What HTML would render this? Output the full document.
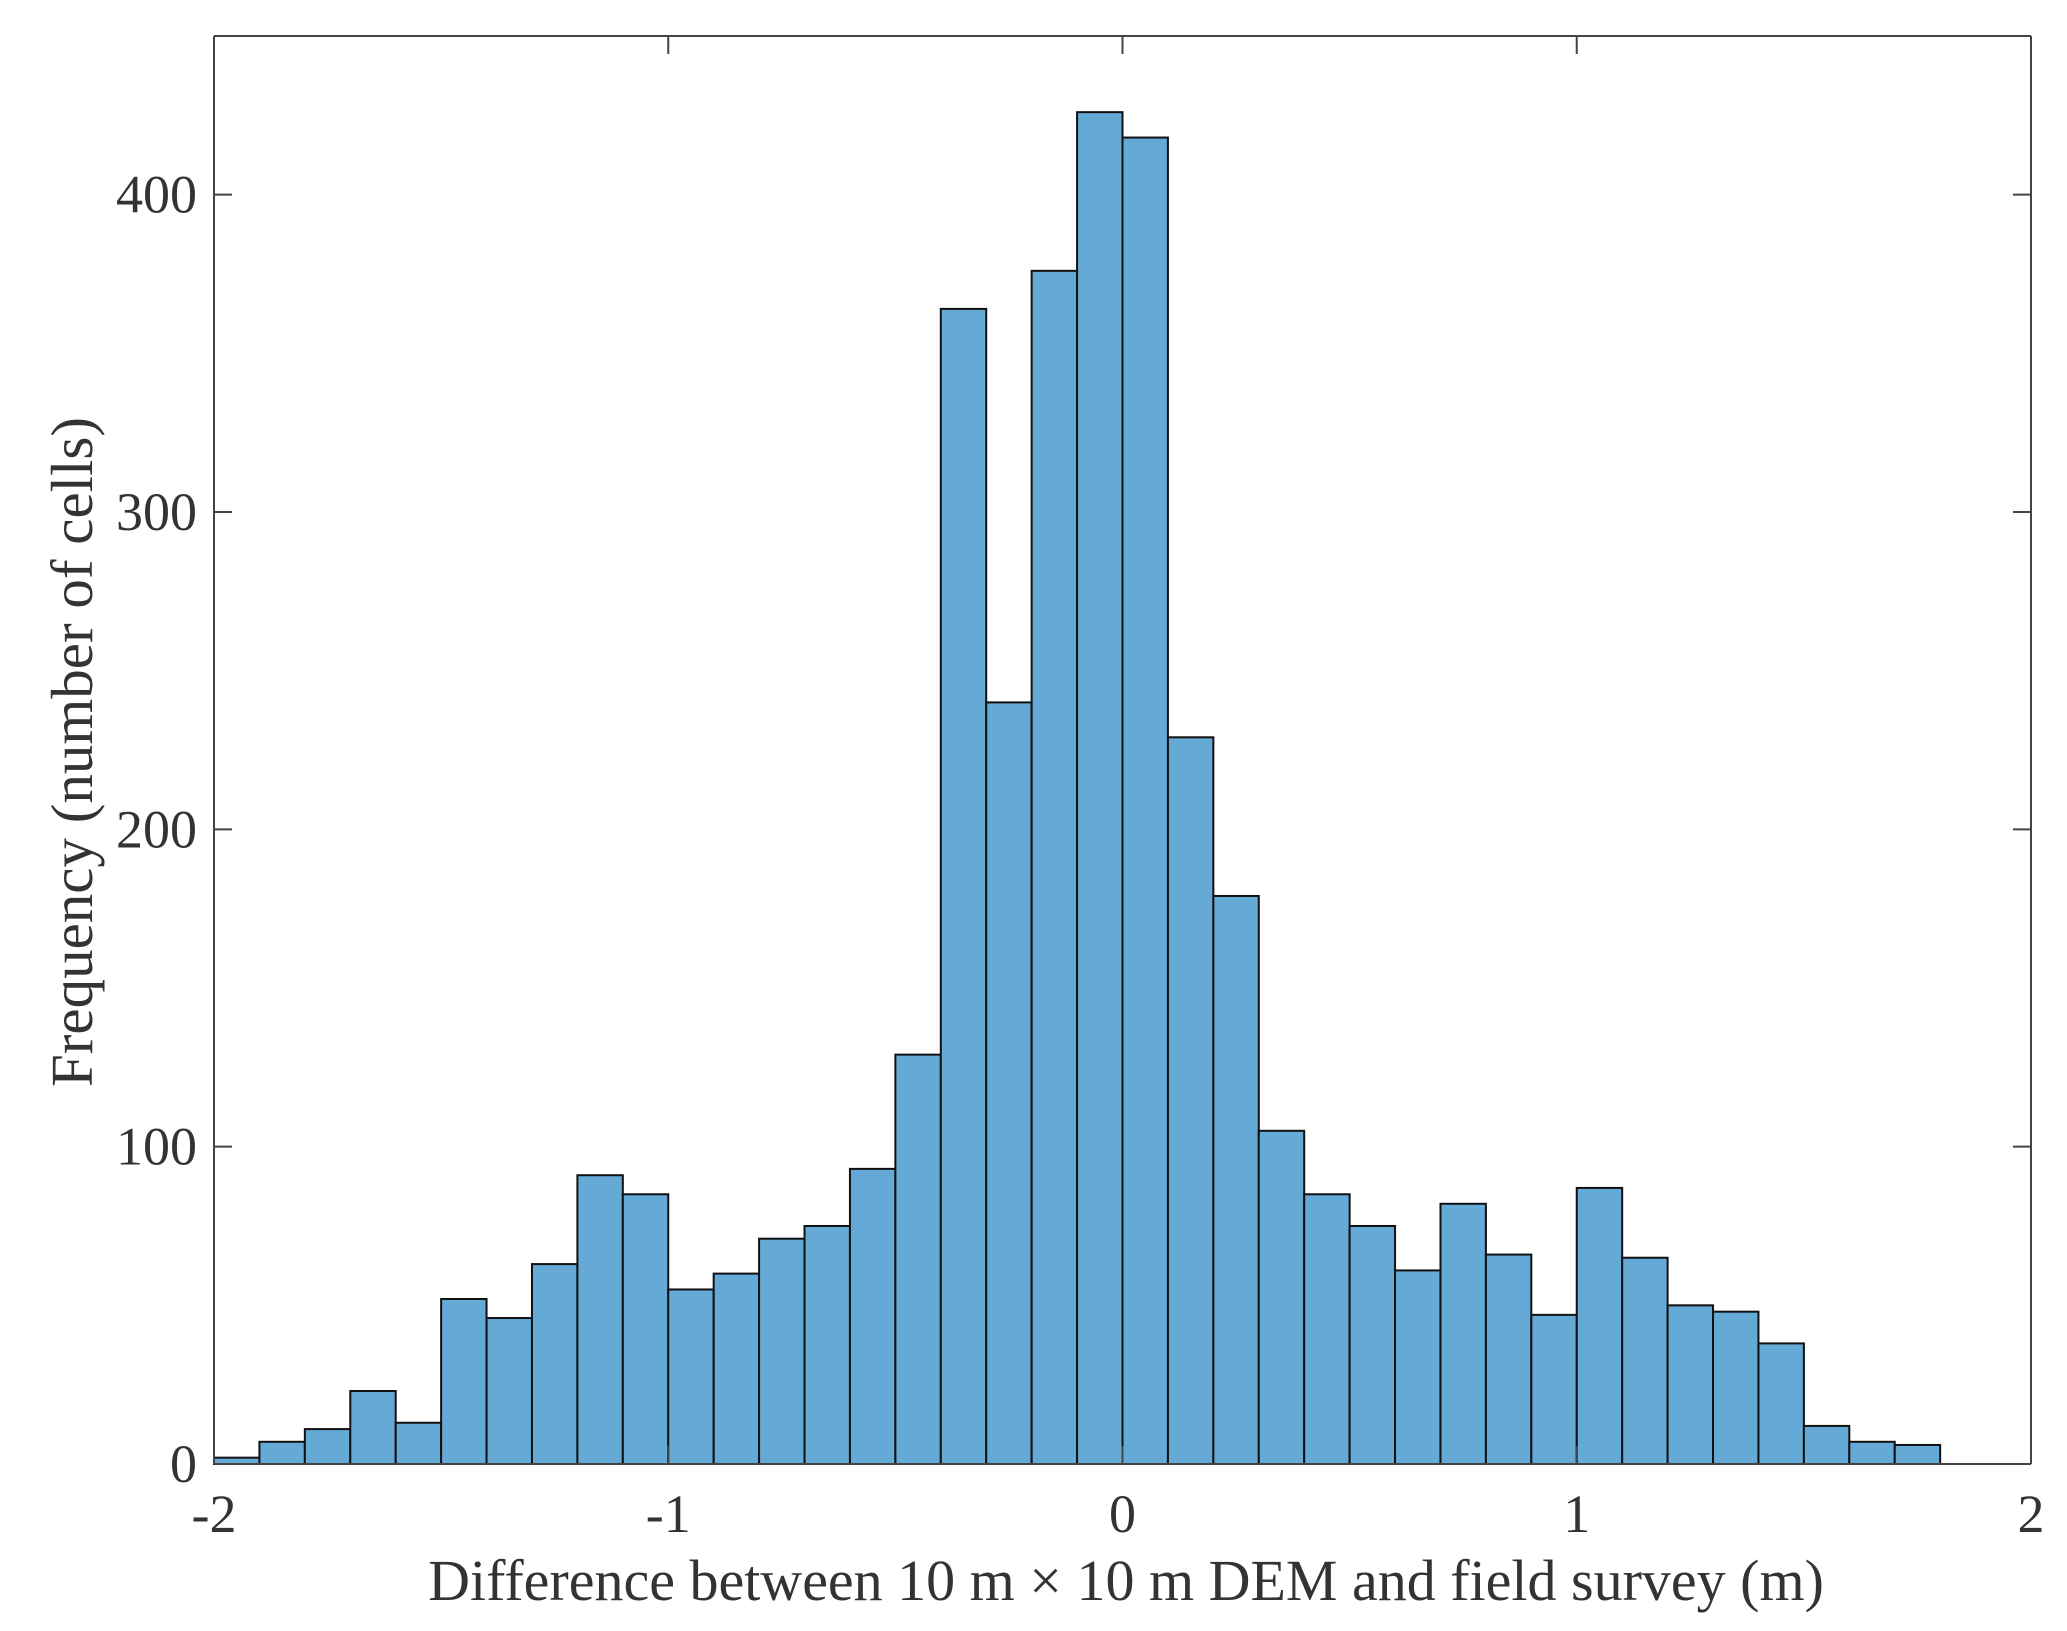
<!DOCTYPE html>
<html><head><meta charset="utf-8"><style>
html,body{margin:0;padding:0;background:#fff;}
svg{display:block;font-family:"Liberation Serif",serif;}
</style></head><body>
<svg id="chart" width="2067" height="1631" viewBox="0 0 2067 1631" xmlns="http://www.w3.org/2000/svg">
<g id="bars"></g>
<g id="axes"></g>
<text x="1126" y="1600" font-size="58" fill="#333" text-anchor="middle">Difference between 10 m × 10 m DEM and field survey (m)</text>
<text transform="translate(92,752) rotate(-90)" font-size="59" fill="#333" text-anchor="middle">Frequency (number of cells)</text>
</svg>
<script>
const binEdgesStart = -2;
const binWidth = 0.1;
const counts = [2,7,11,23,13,52,46,63,91,85,55,60,71,75,93,129,364,240,376,426,418,229,179,105,85,75,61,82,66,47,87,65,50,48,38,12,7,6,0,0];
const xTicks = [-2,-1,0,1,2];
const xTickLabels = ["-2","-1","0","1","2"];
const yTicks = [0,100,200,300,400];
const yTickLabels = ["0","100","200","300","400"];

const L=214,R=2031,T=36,B=1464;
const xMin=-2,xMax=2,yMin=0,yMax=450;
const xs=v=>L+(v-xMin)/(xMax-xMin)*(R-L);
const ys=v=>B-(v-yMin)/(yMax-yMin)*(B-T);
const NS="http://www.w3.org/2000/svg";
const bars=document.getElementById('bars');
counts.forEach((c,i)=>{
  const x0=xs(binEdgesStart+i*binWidth), x1=xs(binEdgesStart+(i+1)*binWidth);
  const r=document.createElementNS(NS,'rect');
  r.setAttribute('x',x0);r.setAttribute('y',ys(c));
  r.setAttribute('width',x1-x0);r.setAttribute('height',Math.max(0,B-ys(c)));
  r.setAttribute('fill','#65a9d7');r.setAttribute('stroke','#111');r.setAttribute('stroke-width','2');
  
  
  bars.appendChild(r);
});
const axes=document.getElementById('axes');
function line(x1,y1,x2,y2,name){
  const l=document.createElementNS(NS,'line');
  l.setAttribute('x1',x1);l.setAttribute('y1',y1);l.setAttribute('x2',x2);l.setAttribute('y2',y2);
  l.setAttribute('stroke','#444');l.setAttribute('stroke-width','2');
  
  
  axes.appendChild(l);
}
line(L,T,R,T,'axis-top');line(L,B,R,B,'axis-bottom');
line(L,T,L,B,'axis-left');line(R,T,R,B,'axis-right');
function text(x,y,s,anchor,name){
  const t=document.createElementNS(NS,'text');
  t.setAttribute('x',x);t.setAttribute('y',y);t.setAttribute('font-size','54');
  t.setAttribute('fill','#333');t.setAttribute('text-anchor',anchor);t.textContent=s;
  
  
  axes.appendChild(t);
}
xTicks.forEach((v,i)=>{
  const x=xs(v);
  line(x,B,x,B-18,'x-tick');line(x,T,x,T+18,'x-tick-top');
  text(x,1532,xTickLabels[i],'middle','x-tick-label');
});
yTicks.forEach((v,i)=>{
  const y=ys(v);
  line(L,y,L+18,y,'y-tick');line(R,y,R-18,y,'y-tick-right');
  text(197,y+18,yTickLabels[i],'end','y-tick-label');
});
</script>
</body></html>
